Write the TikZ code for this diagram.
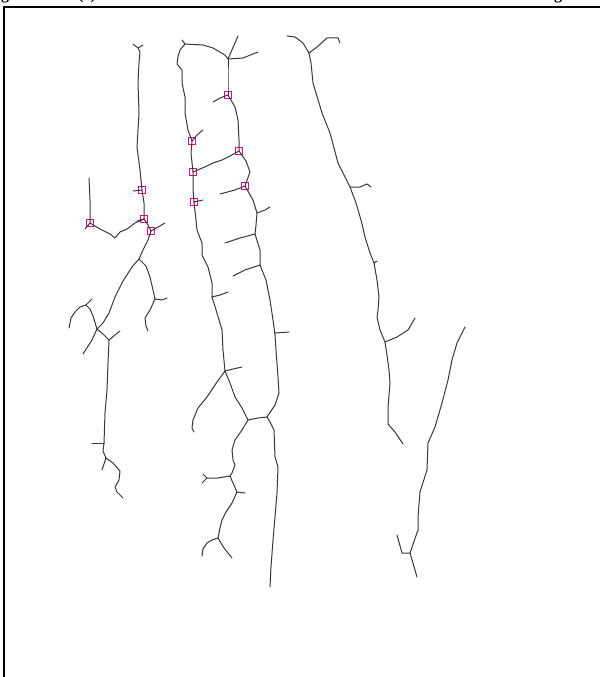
\documentclass[tikz,border=0pt]{standalone}
\usepackage{fontspec}
\setmainfont{Liberation Serif}
\begin{document}
\begin{tikzpicture}[x=1pt,y=-1pt,
  skel/.style={draw=black!78, line width=1pt, line join=round, line cap=round},
  sq/.style={draw=magenta, line width=0.9pt, minimum size=7pt, inner sep=0pt, rectangle},
  frame/.style={draw=black, line width=2pt},
  cut/.style={font=\fontsize{16}{18}\selectfont\bfseries, inner sep=0pt, anchor=base west}]
\useasboundingbox (0,0) rectangle (600,677);
% cut-off title line
\begin{scope}
\clip (0,0) rectangle (600,6);
\node[cut] (t1) at (1,0) {g};
\node[cut] (t2) at (78,0) {(c)};
\node[cut] (t3) at (554,0) {g};
\end{scope}
% frame (only left and top edges visible)
\draw[frame] (4,677) -- (4,7) -- (600,7);

% ---------- left structure ----------
\coordinate (ja) at (139,259);
\coordinate (jb) at (97,329);
\coordinate (fc) at (86,305);
\coordinate (jd) at (109,340);
\coordinate (je) at (155,299);
\coordinate (jf) at (104,443);
\coordinate (jg) at (106,458);
\node[sq] (s1) at (142,190) {};
\node[sq] (s2) at (144,219) {};
\node[sq] (s3) at (151,231) {};
\node[sq] (s4) at (90,223) {};
\draw[skel] (133,44)--(138,48)--(143,45);
\draw[skel] (138,48)--(140,52)--(139,63)--(138,83)--(139,113)--(137,147)--(140,170)--(s1.center)--(144,203)--(s2.center)--(148,225)--(s3.center);
\draw[skel] (133,191)--(s1.center);
\draw[skel] (137,221)--(s2.center);
\draw[skel] (s3.center)--(158,227)--(165,223);
\draw[skel] (s2.center)--(135,223)--(127,229)--(120,232)--(115,238)--(110,234)--(100,229)--(s4.center);
\draw[skel] (s4.center)--(90,200)--(89,178);
\draw[skel] (s4.center)--(85,229);
\draw[skel] (s3.center)--(148,240)--(143,250)--(ja);
\draw[skel] (ja)--(132,267)--(123,281)--(115,297)--(109,313)--(103,323)--(jb);
\draw[skel] (ja)--(146,266)--(150,277)--(153,290)--(je);
\draw[skel] (je)--(162,300)--(167,298);
\draw[skel] (je)--(150,310)--(145,318)--(146,326)--(148,331);
\draw[skel] (jb)--(93,316)--(90,309)--(fc);
\draw[skel] (fc)--(92,299);
\draw[skel] (fc)--(80,307)--(75,312)--(71,318)--(69,328);
\draw[skel] (jb)--(92,340)--(83,354);
\draw[skel] (jb)--(103,334)--(jd);
\draw[skel] (jd)--(115,335)--(120,331);
\draw[skel] (jd)--(108,363)--(107,390)--(105,413)--(jf);
\draw[skel] (jf)--(92,443);
\draw[skel] (jf)--(103,451)--(jg);
\draw[skel] (jg)--(102,470);
\draw[skel] (jg)--(113,463)--(120,471)--(119,480)--(115,487)--(117,492)--(123,498);

% ---------- middle structure ----------
\coordinate (jt) at (228,59);
\coordinate (k1) at (257,213);
\coordinate (k2) at (255,234);
\coordinate (k3) at (260,265);
\coordinate (jr) at (267,417);
\coordinate (jl2) at (248,420);
\coordinate (jm) at (212,297);
\coordinate (jn) at (225,371);
\coordinate (jp) at (230,476);
\coordinate (jq) at (237,492);
\coordinate (jr2) at (218,538);
\coordinate (tk) at (207,478);
\node[sq] (s5) at (228,95) {};
\node[sq] (s6) at (239,151) {};
\node[sq] (s7) at (245,186) {};
\node[sq] (s8) at (192,141) {};
\node[sq] (s9) at (193,172) {};
\node[sq] (s10) at (194,202) {};
\draw[skel] (182,40)--(185,44);
\draw[skel] (185,44)--(203,45)--(213,48)--(225,55)--(jt);
\draw[skel] (jt)--(238,36);
\draw[skel] (jt)--(243,58)--(258,52);
\draw[skel] (jt)--(228,75)--(228,88)--(s5.center);
\draw[skel] (s5.center)--(220,98)--(213,102);
\draw[skel] (s5.center)--(235,107)--(238,120)--(239,140)--(s6.center);
\draw[skel] (s6.center)--(230,156)--(222,160)--(213,163)--(207,166)--(s9.center);
\draw[skel] (s6.center)--(246,161)--(250,172)--(s7.center);
\draw[skel] (s7.center)--(235,190)--(220,194);
\draw[skel] (s7.center)--(253,200)--(k1);
\draw[skel] (k1)--(265,210)--(270,207);
\draw[skel] (k1)--(256,225)--(k2);
\draw[skel] (k2)--(240,238)--(225,243);
\draw[skel] (k2)--(260,250)--(k3);
\draw[skel] (k3)--(245,270)--(233,276);
\draw[skel] (k3)--(266,280)--(270,300)--(273,320)--(275,335)--(276,350)--(278,377)--(279,393)--(275,405)--(jr);
\draw[skel] (275,333)--(289,332);
\draw[skel] (jr)--(258,418)--(jl2);
\draw[skel] (jr)--(270,422)--(274,430)--(275,457)--(278,467)--(277,493)--(275,517)--(273,540)--(271,567)--(270,587);
\draw[skel] (185,44)--(180,50)--(178,57)--(177,64)--(182,70)--(182,83)--(185,97)--(185,113)--(188,130)--(s8.center);
\draw[skel] (s8.center)--(197,135)--(203,130);
\draw[skel] (s8.center)--(191,153)--(s9.center)--(193,190)--(s10.center);
\draw[skel] (s10.center)--(203,200);
\draw[skel] (s10.center)--(196,220)--(197,230)--(202,243)--(202,255)--(208,267)--(212,283)--(jm);
\draw[skel] (jm)--(220,295)--(228,292);
\draw[skel] (jm)--(217,313)--(222,330)--(223,350)--(jn);
\draw[skel] (jn)--(233,369)--(242,367);
\draw[skel] (jn)--(217,382)--(207,397)--(198,408)--(193,420)--(192,428)--(194,432);
\draw[skel] (jn)--(230,383)--(235,397)--(242,408)--(jl2);
\draw[skel] (jl2)--(242,430)--(235,440)--(232,450)--(233,460)--(235,465)--(232,473)--(jp);
\draw[skel] (jp)--(218,478)--(tk);
\draw[skel] (tk)--(203,474);
\draw[skel] (tk)--(202,483);
\draw[skel] (jp)--(233,483)--(jq);
\draw[skel] (jq)--(245,493);
\draw[skel] (jq)--(232,503)--(226,512)--(222,520)--(220,528)--(jr2);
\draw[skel] (jr2)--(212,540)--(207,543)--(203,549)--(202,556);
\draw[skel] (jr2)--(224,548)--(232,558);

% ---------- right structure ----------
\coordinate (jy) at (309,53);
\coordinate (jz) at (350,187);
\coordinate (jw) at (385,342);
\coordinate (jv) at (388,424);
\draw[skel] (287,36)--(295,37)--(303,43)--(jy);
\draw[skel] (jy)--(317,47)--(327,38)--(338,38)--(340,43);
\draw[skel] (jy)--(311,63)--(313,83)--(322,113)--(330,133)--(338,163)--(jz);
\draw[skel] (jz)--(360,187)--(367,184)--(371,187);
\draw[skel] (jz)--(356,203)--(361,220)--(365,237)--(370,253)--(374,263)--(377,280)--(379,297)--(378,310)--(377,317)--(380,330)--(jw);
\draw[skel] (374,263)--(377,261);
\draw[skel] (jw)--(397,337)--(408,330)--(415,318);
\draw[skel] (jw)--(387,355)--(389,370)--(390,383)--(388,407)--(jv);
\draw[skel] (jv)--(395,432)--(403,444);

% ---------- lower right line ----------
\coordinate (jx) at (410,553);
\draw[skel] (465,327)--(457,343)--(452,360)--(448,380)--(442,403)--(435,427)--(428,443)--(427,470)--(420,492)--(418,517)--(418,530)--(jx);
\draw[skel] (jx)--(402,553)--(397,535);
\draw[skel] (jx)--(417,577);
\end{tikzpicture}
\end{document}
